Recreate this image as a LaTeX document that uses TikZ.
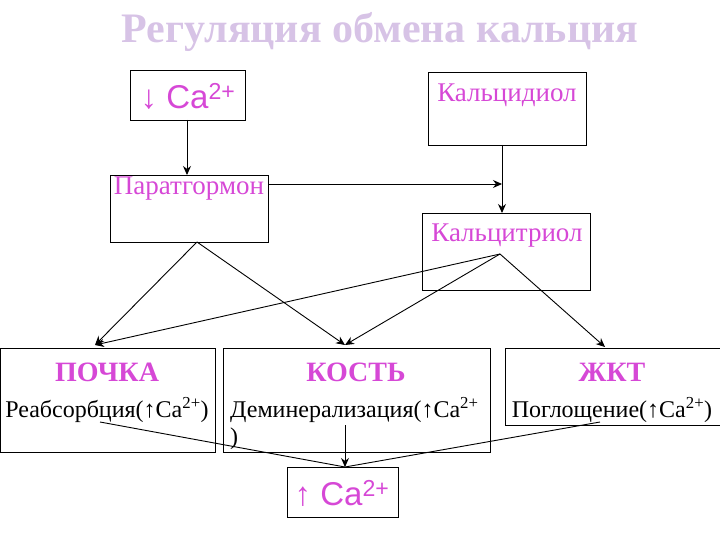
\documentclass[tikz,border=0pt]{standalone}
\usepackage{fontspec}
\setmainfont{Liberation Serif}
\setsansfont{Liberation Sans}
\usetikzlibrary{arrows.meta}
\definecolor{ttl}{RGB}{215,195,230}
\definecolor{mag}{RGB}{214,72,214}
\begin{document}
\begin{tikzpicture}[x=1pt,y=-1pt,
  bx/.style={draw,line width=0.6pt},
  ar/.style={-{Stealth[length=9pt,width=8pt]},line width=0.9pt},
  ln/.style={line width=0.9pt},
  lab/.style={inner sep=0pt,font=\fontsize{27}{30}\selectfont,text=mag},
  hd/.style={inner sep=0pt,font=\bfseries\fontsize{28}{30}\selectfont,text=mag},
  sm/.style={inner sep=0pt,font=\fontsize{24}{27}\selectfont}]
\useasboundingbox (0,0) rectangle (720,540);
\node[inner sep=0,text=ttl,font=\fontsize{42}{44}\selectfont\bfseries] (title) at (380,32) {Регуляция обмена кальция};
% boxes
\draw[bx] (130,70) rectangle (245,120);
\node[lab,font=\sffamily\fontsize{33}{35}\selectfont] (ca1) at (188,96) {↓ Ca\textsuperscript{2+}};
\draw[bx] (428,72) rectangle (586,145);
\node[lab] (cd) at (507,95) {Кальцидиол};
\draw[bx] (110,175) rectangle (268,242);
\node[lab] (pt) at (189,189) {Паратгормон};
\draw[bx] (422,213) rectangle (590,290);
\node[lab] (ct) at (507,236) {Кальцитриол};
\draw[bx] (0,348) rectangle (215,452);
\node[hd] (kid) at (107,372) {ПОЧКА};
\node[sm] (r1) at (107,410) {Реабсорбция(↑Ca\textsuperscript{2+})};
\draw[bx] (223,348) rectangle (490,452);
\node[hd] (bone) at (356,372) {КОСТЬ};
\node[sm,align=left,anchor=north west] (r2) at (230,397) {Деминерализация(↑Ca\textsuperscript{2+}\\)};
\draw[bx] (505,348) rectangle (720,425);
\node[hd] (gut) at (612,372) {ЖКТ};
\node[sm] (r3) at (612,410) {Поглощение(↑Ca\textsuperscript{2+})};
\draw[bx] (287,467) rectangle (398,517);
\node[lab,font=\sffamily\fontsize{33}{35}\selectfont] (ca2) at (342,493) {↑ Ca\textsuperscript{2+}};
% coordinates
\coordinate (a1) at (187,120); \coordinate (a2) at (187,175);
\coordinate (b1) at (268,184); \coordinate (b2) at (502,184);
\coordinate (c1) at (502,145); \coordinate (c2) at (502,213);
\coordinate (p0) at (197,242);
\coordinate (t0) at (500,254);
\coordinate (k) at (95,345); \coordinate (o) at (345,345); \coordinate (g) at (605,347);
\coordinate (k2) at (100,422); \coordinate (o2) at (345,425); \coordinate (g2) at (600,422);
\coordinate (e) at (345,467);
\draw[ar] (a1) -- (a2);
\draw[ar] (b1) -- (b2);
\draw[ar] (c1) -- (c2);
\draw[ar] (p0) -- (k);
\draw[ar] (p0) -- (o);
\draw[ar] (t0) -- (k);
\draw[ar] (t0) -- (o);
\draw[ar] (t0) -- (g);
\draw[ln] (k2) -- (e);
\draw[ln] (g2) -- (e);
\draw[ar] (o2) -- (e);
\end{tikzpicture}
\end{document}
